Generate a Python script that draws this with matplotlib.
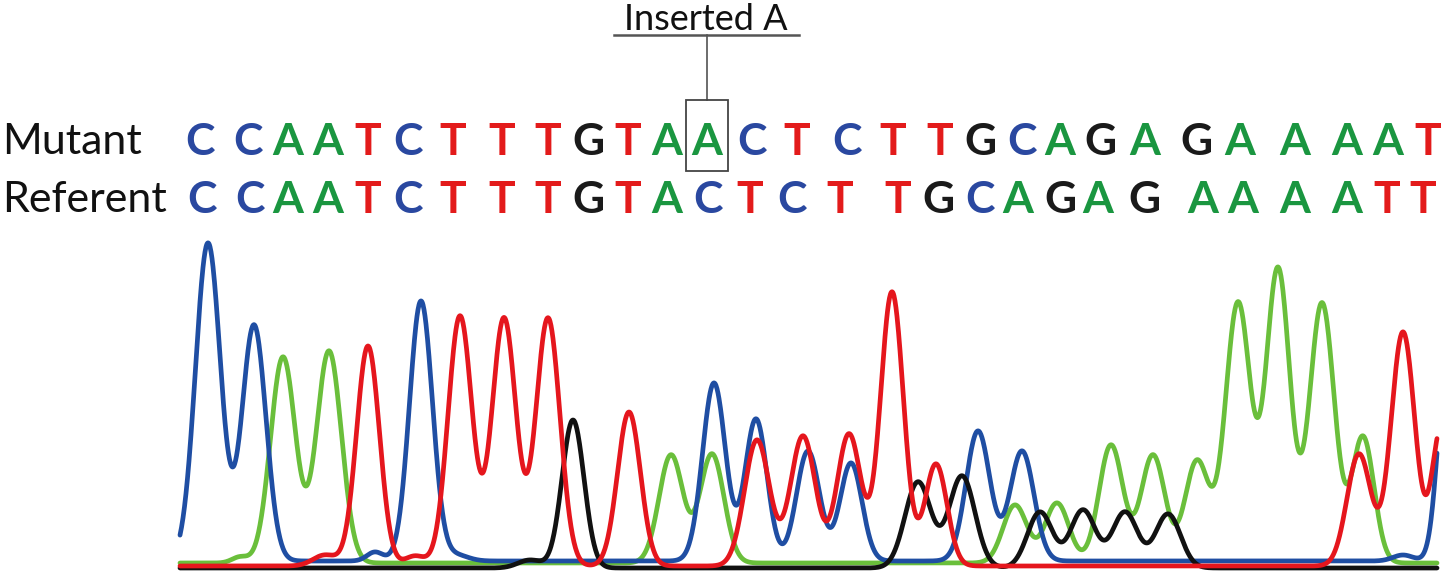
import numpy as np
import matplotlib.pyplot as plt
from matplotlib.patches import Rectangle

# base calls (letter, position along the trace)
mutant_seq = list("CCAATCTTTGTAACTCTTGCAGAGAAAAT")
mutant_pos = [200, 248, 288, 328, 368, 408, 453, 502, 548, 588, 628, 667, 707, 752, 797,
              847, 893, 940, 980, 1022, 1060, 1100, 1145, 1197, 1240, 1295, 1347, 1388, 1428]
referent_seq = list("CCAATCTTTGTACTCTTGCAGAGAAAATT")
referent_pos = [202, 250, 288, 328, 368, 408, 453, 502, 548, 588, 628, 667, 708, 750, 792,
                840, 898, 938, 980, 1018, 1060, 1098, 1145, 1203, 1243, 1295, 1347, 1387, 1423]
inserted_index = 12

# chromatogram peaks per dye: (scan position, height, width)
blue_peaks = [(208, 318, 12.5), (254, 236, 12), (375, 9, 8), (421, 260, 11.5), (456, 6, 12),
              (714, 178, 11.5), (756, 142, 11), (808, 110, 11.5), (851, 98, 11),
              (978, 130, 12), (1022, 110, 12), (1403, 6, 10), (1447, 200, 9)]
green_peaks = [(240, 6, 8), (283, 206, 12.5), (329, 212, 12.5), (671, 108, 12), (712, 109, 12),
               (1015, 58, 12), (1057, 60, 12), (1111, 118, 12), (1153, 108, 12),
               (1197, 102, 12), (1238, 260, 12.5), (1278, 294, 12), (1322, 260, 12.5),
               (1363, 126, 11)]
red_peaks = [(325, 11, 12), (368, 220, 11.5), (415, 10, 10), (460, 250, 12), (504, 248, 12),
             (548, 248, 12), (629, 154, 11.5), (757, 126, 12.5), (803, 130, 12.5),
             (849, 132, 12), (892, 274, 11.5), (936, 102, 11), (1359, 112, 12),
             (1403, 234, 12), (1441, 136, 9)]
black_peaks = [(530, 8, 12), (573, 148, 11), (918, 86, 13), (962, 92, 13), (1040, 56, 12.5),
               (1083, 58, 12.5), (1125, 56, 12.5), (1168, 54, 12.5)]
baselines = {"blue": 7, "green": 5, "red": 2, "black": 0}

letter_colors = {"A": "#1a9640", "C": "#2a48a0", "T": "#e31b1b", "G": "#1a1a1a"}
trace_colors = {"green": "#6abf3b", "blue": "#1f4ea3", "black": "#111111", "red": "#e5161d"}


def trace(x, peaks, base):
    y = np.full_like(x, float(base))
    for c, h, s in peaks:
        y += h * np.exp(-(x - c) ** 2 / (2 * s ** 2))
    return y


fig = plt.figure(figsize=(14.42, 5.74), dpi=100)

# chromatogram axes: 1 data unit = 1 pixel
axc = fig.add_axes([0, 0, 1, 344 / 574])
axc.set_xlim(0, 1442)
axc.set_ylim(-6, 338)
axc.axis("off")

x = np.arange(180, 1437.5, 0.5)
for name, peaks in [("green", green_peaks), ("blue", blue_peaks),
                    ("black", black_peaks), ("red", red_peaks)]:
    axc.plot(x, trace(x, peaks, baselines[name]), color=trace_colors[name],
             lw=3.4, solid_joinstyle="round", solid_capstyle="round")

# text / annotation axes in pixel coordinates
axt = fig.add_axes([0, 0, 1, 1])
axt.set_xlim(0, 1442)
axt.set_ylim(574, 0)
axt.axis("off")

font = "Lato"
axt.text(2, 154, "Mutant", fontsize=31, family=font, va="baseline", ha="left", color="#111")
axt.text(2, 212, "Referent", fontsize=31, family=font, va="baseline", ha="left", color="#111")

for seq, pos, yb in [(mutant_seq, mutant_pos, 155), (referent_seq, referent_pos, 213)]:
    for b, p in zip(seq, pos):
        axt.text(p, yb, b, fontsize=32, family=font, fontweight="bold",
                 color=letter_colors[b], ha="center", va="baseline")

# inserted base annotation
xi = mutant_pos[inserted_index]
axt.add_patch(Rectangle((686, 100), 42, 71, fill=False, edgecolor="#444", lw=1.3))
axt.plot([xi, xi], [35, 100], color="#444", lw=1.1)
axt.plot([614, 799], [35, 35], color="#555", lw=1.8)
axt.text(706, 30, "Inserted A", fontsize=26, family=font, ha="center", va="baseline",
         color="#111")

fig.savefig("out.png", dpi=100)
